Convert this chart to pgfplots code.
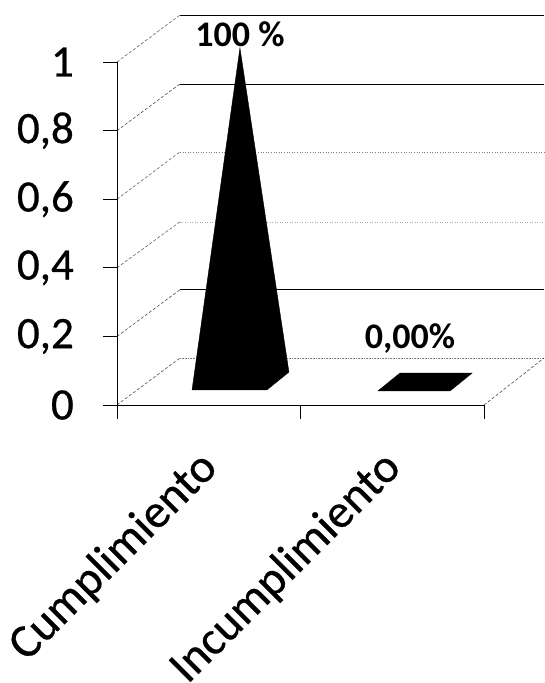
\documentclass[border=0pt]{standalone}
\usepackage{fontspec}
\setmainfont{Carlito}
\newfontfamily\tickfont{Carlito}[FakeBold=0.6]
\usepackage{pgfplots}
\pgfplotsset{compat=1.18}
\begin{document}
\begin{tikzpicture}
\path[use as bounding box] (-117pt,-278pt) rectangle (427pt,405pt);
\begin{axis}[
  at={(0pt,0pt)}, anchor=south west,
  scale only axis, width=427pt, height=405pt,
  xmin=0, xmax=2.327, ymin=0, ymax=1.1808,
  clip=false,
  axis line style={draw=none},
  tick pos=left, tick align=outside,
  major tick length=14pt,
  tick style={black, line width=0.7pt},
  xtick={0,1,2}, xticklabels={},
  ytick={0,0.2,0.4,0.6,0.8,1},
  yticklabel style={font=\tickfont\fontsize{45}{45}\selectfont, /pgf/number format/assume math mode=true, /pgf/number format/use comma, inner sep=0pt, xshift=-29pt},
  extra x ticks={0.5,1.5},
  extra x tick labels={Cumplimiento,Incumplimiento},
  extra x tick style={major tick length=0pt, tick style={draw=none},
    xticklabel style={font=\tickfont\fontsize{47.5}{47.5}\selectfont, rotate=45, anchor=north east, inner sep=0pt, xshift=-38pt, yshift=-20pt}},
]
% back wall gridlines
\addplot[black, line width=0.9pt, no marks] coordinates {(0.343,1.137) (2.327,1.137)};
\addplot[black, line width=0.9pt, no marks] coordinates {(0.343,0.936) (2.327,0.936)};
\addplot[gray, line width=0.6pt, dotted, no marks] coordinates {(0.343,0.738) (2.327,0.738)};
\addplot[gray!70, line width=0.5pt, dotted, no marks] coordinates {(0.343,0.534) (2.327,0.534)};
\addplot[black, line width=0.9pt, no marks] coordinates {(0.343,0.336) (2.327,0.336)};
\addplot[gray, line width=0.6pt, densely dotted, no marks] coordinates {(0.343,0.137) (2.327,0.137)};
% side wall lines
\addplot[black!70, line width=0.5pt, densely dashed, no marks] coordinates {(0,1) (0.343,1.137)};
\addplot[black!80, line width=0.5pt, densely dashed, no marks] coordinates {(0,0.8) (0.343,0.936)};
\addplot[black!70, line width=0.5pt, densely dashed, no marks] coordinates {(0,0.6) (0.343,0.738)};
\addplot[black!70, line width=0.5pt, densely dashed, no marks] coordinates {(0,0.4) (0.343,0.534)};
\addplot[black!80, line width=0.5pt, densely dashed, no marks] coordinates {(0,0.2) (0.343,0.336)};
\addplot[black!80, line width=0.5pt, densely dashed, no marks] coordinates {(0,0) (0.343,0.137)};
\addplot[black!80, line width=0.5pt, densely dashed, no marks] coordinates {(2,0) (2.327,0.137)};
% front axis lines
\addplot[black, line width=0.9pt, no marks] coordinates {(0,1) (0,0) (2,0)};
% pyramids
\addplot[black, fill=black, no marks] coordinates {(0.409,0.044) (0.817,0.044) (0.937,0.096) (0.670,1.041)} -- cycle;
\addplot[black, fill=black, no marks] coordinates {(1.422,0.041) (1.815,0.041) (1.935,0.093) (1.542,0.093)} -- cycle;
% value labels
\node[font=\fontsize{36}{36}\selectfont\bfseries, inner sep=0pt] at (axis cs:0.67,1.08) {100 \%};
\node[font=\fontsize{36}{36}\selectfont\bfseries, inner sep=0pt] at (axis cs:1.597,0.195) {0,00\%};
\end{axis}
\end{tikzpicture}
\end{document}
